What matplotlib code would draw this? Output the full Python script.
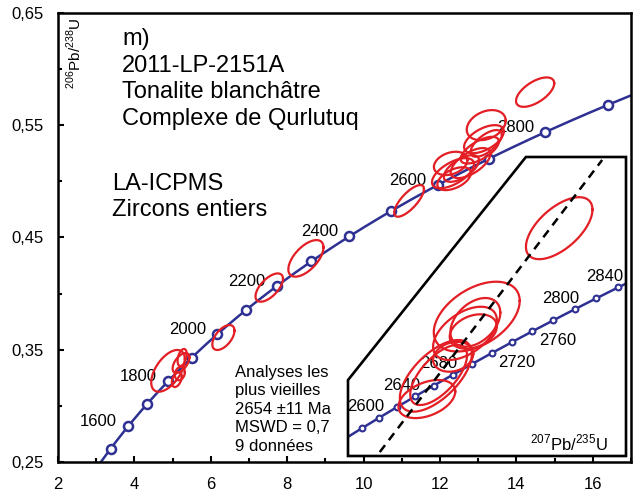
import numpy as np
import matplotlib
matplotlib.use('Agg')
from matplotlib import pyplot as plt
from matplotlib.patches import Polygon
from matplotlib.ticker import MultipleLocator, FixedLocator, FuncFormatter

plt.rcParams['font.family'] = ['Liberation Sans', 'DejaVu Sans']
plt.rcParams['mathtext.fontset'] = 'custom'
plt.rcParams['mathtext.rm'] = 'Liberation Sans'

NAVY = '#2e3192'
RED = '#e31e24'

# decay constants (1/yr)
L238 = 1.55125e-10
L235 = 9.8485e-10

# concordia marker ages (Ma)
main_marker_ages = [1500, 1600, 1700, 1800, 1900, 2000, 2100, 2200, 2300,
                    2400, 2500, 2600, 2700, 2800, 2900]
main_label_ages = [1600, 1800, 2000, 2200, 2400, 2600, 2800]
inset_marker_ages = [2580, 2600, 2620, 2640, 2660, 2680, 2700, 2720,
                     2740, 2760, 2780, 2800, 2820, 2840]
inset_labels_above = [2600, 2640, 2680, 2800, 2840]
inset_labels_below = [2720, 2760]

y_major = [0.25, 0.35, 0.45, 0.55, 0.65]
y_minor = [0.30, 0.40, 0.50, 0.60]

# all analyses (207Pb/235U, 206Pb/238U, 2 sigma, rho)
main_x = [4.88, 5.25, 5.22, 5.11, 5.19, 6.33, 7.53, 8.49, 11.19,
          12.28, 12.34, 12.56, 12.80, 12.37, 13.21, 13.15, 13.21, 13.04, 14.49]
main_sx = [0.44, 0.12, 0.22, 0.13, 0.13, 0.29, 0.36, 0.46, 0.39,
           0.44, 0.55, 0.46, 0.52, 0.44, 0.51, 0.52, 0.41, 0.50, 0.50]
main_y = [0.3312, 0.3431, 0.3382, 0.3235, 0.3288, 0.3609, 0.4054, 0.4314, 0.4826,
          0.5160, 0.5073, 0.5115, 0.5163, 0.5024, 0.5501, 0.5376, 0.5338, 0.5278, 0.5795]
main_sy = [0.0186, 0.0076, 0.0089, 0.0067, 0.0060, 0.0111, 0.0126, 0.0163, 0.0141,
           0.0104, 0.0134, 0.0119, 0.0134, 0.0102, 0.0134, 0.0125, 0.0119, 0.0119, 0.0131]
main_rho = [0.55, 0.4, 0.55, 0.4, 0.2, 0.55, 0.62, 0.6, 0.75,
            0.3, 0.6, 0.62, 0.62, 0.5, 0.3, 0.55, 0.65, 0.65, 0.6]

# the 9 oldest analyses, shown in the inset
old_x = [14.54, 13.35, 13.33, 13.18, 13.30, 12.76, 12.80, 12.63, 13.01]
old_sx = [0.48, 0.62, 0.36, 0.46, 0.34, 0.52, 0.41, 0.41, 0.29]
old_y = [0.5793, 0.5408, 0.5383, 0.5335, 0.5343, 0.5150, 0.5154, 0.5049, 0.5233]
old_sy = [0.0135, 0.0152, 0.0106, 0.0116, 0.0075, 0.0156, 0.0131, 0.0083, 0.0065]
old_rho = [0.6, 0.45, 0.4, 0.5, 0.3, 0.62, 0.65, 0.4, 0.2]

discordia_x = [11.95, 15.16]
discordia_y = [0.4818, 0.6090]


def concordia(age_ma):
    t = np.asarray(age_ma, dtype=float) * 1e6
    return np.exp(L235 * t) - 1, np.exp(L238 * t) - 1


def ellipse(ax, x0, sx, y0, sy, rho, **kw):
    t = np.linspace(0, 2 * np.pi, 200)
    ex = x0 + sx * np.cos(t)
    ey = y0 + sy * (rho * np.cos(t) + np.sqrt(1 - rho ** 2) * np.sin(t))
    return ax.plot(ex, ey, color=RED, lw=1.6, **kw)[0]


fig = plt.figure(figsize=(6.34, 4.96), dpi=100)
ax = fig.add_axes([58 / 634, 34 / 496, 573 / 634, 449 / 496])

curve_x, curve_y = concordia(np.linspace(1400, 3000, 400))
ax.plot(curve_x, curve_y, color=NAVY, lw=1.8, zorder=2)
mx, my = concordia(main_marker_ages)
ax.plot(mx, my, 'o', ms=6.5, mfc='white', mec=NAVY, mew=1.8, zorder=3)
for age in main_label_ages:
    lx, ly = concordia(age)
    ax.annotate(str(age), (lx, ly), xytext=(-8, 3.5), textcoords='offset points',
                ha='right', va='center', fontsize=12)

for i in range(len(main_x)):
    ellipse(ax, main_x[i], main_sx[i], main_y[i], main_sy[i], main_rho[i], zorder=4)

ax.set_xlim(2, 17)
ax.set_ylim(0.25, 0.65)
ax.xaxis.set_major_locator(MultipleLocator(2))
ax.xaxis.set_minor_locator(MultipleLocator(1))
ax.yaxis.set_major_locator(FixedLocator(y_major))
ax.yaxis.set_minor_locator(FixedLocator(y_minor))
ax.yaxis.set_major_formatter(FuncFormatter(lambda v, p: f'{v:.2f}'.replace('.', ',')))
ax.xaxis.set_major_formatter(FuncFormatter(lambda v, p: f'{v:.0f}'))
ax.tick_params(which='both', direction='in', width=1.5, labelsize=12)
ax.tick_params(which='major', length=4)
ax.tick_params(which='minor', length=3)
ax.tick_params(axis='y', pad=10)
ax.tick_params(axis='x', pad=11)
for s in ax.spines.values():
    s.set_linewidth(1.8)


def px(x, y):
    return (x - 58) / 573, (462 - y) / 449


ax.text(*px(74, 17), r'$^{206}$Pb/$^{238}$U', rotation=90, ha='center', va='top',
        fontsize=11, transform=ax.transAxes)

title_lines = ['m)', '2011-LP-2151A', 'Tonalite blanchâtre', 'Complexe de Qurlutuq']
for i, line in enumerate(title_lines):
    ax.text(*px(122, 45 + 26.7 * i), line, fontsize=17, va='baseline',
            transform=ax.transAxes)
for i, line in enumerate(['LA-ICPMS', 'Zircons entiers']):
    ax.text(*px(112, 190 + 25.5 * i), line, fontsize=17, va='baseline',
            transform=ax.transAxes)
result_lines = ['Analyses les', 'plus vieilles', '2654 ±11 Ma', 'MSWD = 0,7', '9 données']
for i, line in enumerate(result_lines):
    ax.text(*px(235, 376.7 + 18.5 * i), line, fontsize=12, va='baseline',
            transform=ax.transAxes)

# inset
ax2 = fig.add_axes([348 / 634, 40 / 496, 278 / 634, 299 / 496])
ax2.set_axis_off()
ax2.set_xlim(11.492, 15.504)
ax2.set_ylim(0.4801, 0.6103)
frame = [(0, 0.254), (0.640, 1), (1, 1), (1, 0), (0, 0)]
bg = Polygon(frame, closed=True, transform=ax2.transAxes, facecolor='white',
             edgecolor='none', zorder=0)
ax2.add_patch(bg)
edge = Polygon(frame, closed=True, transform=ax2.transAxes, fill=False,
               edgecolor='black', lw=1.9, zorder=10, clip_on=False)
ax2.add_patch(edge)

icx, icy = concordia(np.linspace(2500, 2900, 200))
ln = ax2.plot(icx, icy, color=NAVY, lw=1.8, zorder=2)[0]
ln.set_clip_path(bg)
imx, imy = concordia(inset_marker_ages)
ax2.plot(imx, imy, 'o', ms=4.2, mfc='white', mec=NAVY, mew=1.5, zorder=3)
for age in inset_labels_above:
    lx, ly = concordia(age)
    ax2.annotate(str(age), (lx, ly), xytext=(-10, 8), textcoords='offset points',
                 ha='center', va='center', fontsize=12)
for age in inset_labels_below:
    lx, ly = concordia(age)
    ax2.annotate(str(age), (lx, ly), xytext=(18, -6.5), textcoords='offset points',
                 ha='center', va='center', fontsize=12)

dl = ax2.plot(discordia_x, discordia_y, color='black', lw=1.8, ls=(0, (3.5, 2.5)), zorder=5)[0]
dl.set_clip_path(bg)
for i in range(len(old_x)):
    e = ellipse(ax2, old_x[i], old_sx[i], old_y[i], old_sy[i], old_rho[i], zorder=4)
    e.set_clip_path(bg)

ax2.text((608 - 348) / 278, (456 - 450) / 299, r'$^{207}$Pb/$^{235}$U', ha='right',
         va='baseline', fontsize=12, transform=ax2.transAxes)

fig.savefig('out.png', dpi=100)
